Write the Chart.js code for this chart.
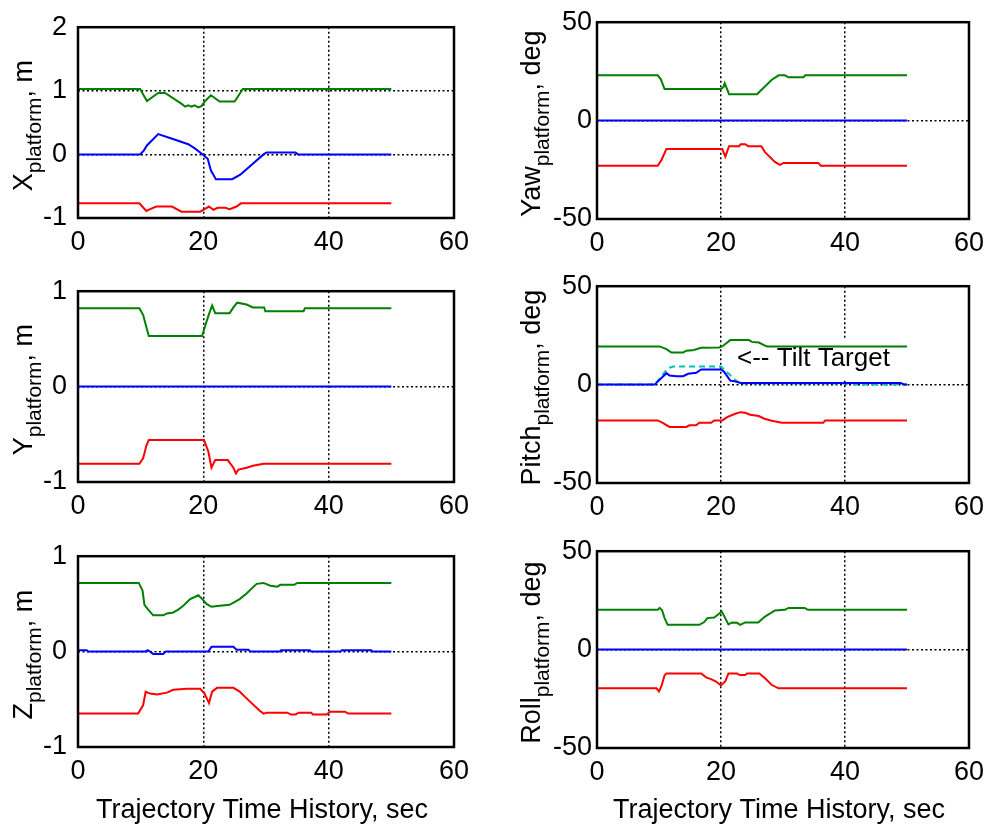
<!DOCTYPE html>
<html>
<head>
<meta charset="utf-8">
<script src="https://cdn.jsdelivr.net/npm/chart.js@4/dist/chart.umd.min.js"></script>
<style>
  body { margin: 0; background: #fff; }
  #wrap { position: relative; width: 992px; height: 829px; overflow: hidden; background: #fff; }
  #wrap canvas { position: absolute; }
</style>
</head>
<body>
<div id="wrap"></div>
<script>
// tick labels
const timeTicks = [0, 20, 40, 60];
const xPosTicks = [-1, 0, 1, 2];
const metreTicks = [-1, 0, 1];
const degTicks = [-50, 0, 50];

// X platform, m
const xGreenT = [0, 9.9, 11.0, 12.8, 13.9, 16.6, 17.1, 17.6, 18.1, 18.6, 19.2, 19.7, 20.3, 21.2, 22.6, 25.0, 26.3, 50];
const xGreenV = [1.03, 1.03, 0.84, 0.965, 0.965, 0.79, 0.75, 0.77, 0.75, 0.77, 0.74, 0.76, 0.84, 0.93, 0.83, 0.83, 1.03, 1.03];
const xBlueT = [0, 9.9, 10.5, 11.0, 12.8, 15.5, 17.6, 18.7, 19.9, 20.7, 21.2, 22.0, 24.6, 25.9, 29.6, 30.1, 34.7, 35.1, 50];
const xBlueV = [0, 0, 0.06, 0.14, 0.32, 0.23, 0.16, 0.09, 0, -0.07, -0.25, -0.39, -0.39, -0.32, 0, 0.03, 0.03, 0, 0];
const xRedT = [0, 9.8, 10.9, 11.5, 12.5, 15, 16.5, 19.5, 20.2, 20.9, 21.6, 22.3, 23.5, 24.2, 25.3, 26.0, 50];
const xRedV = [-0.77, -0.77, -0.89, -0.86, -0.82, -0.82, -0.90, -0.90, -0.86, -0.82, -0.87, -0.84, -0.84, -0.86, -0.82, -0.77, -0.77];

// Yaw platform, deg
const yawGreenT = [0, 9.8, 10.3, 10.9, 20.0, 20.4, 20.6, 21.3, 25.8, 28.2, 29.3, 30.3, 30.9, 33.3, 33.6, 50];
const yawGreenV = [23, 23, 21, 16, 16, 17, 19, 13.4, 13.4, 20.8, 23, 23, 22, 22, 23, 23];
const yawBlueT = [0, 50];
const yawBlueV = [0, 0];
const yawRedT = [0, 9.8, 10.4, 11.2, 20.2, 20.7, 21.3, 22.9, 23.2, 23.9, 24.4, 26.5, 27.1, 28.7, 29.5, 30.1, 35.7, 36.1, 50];
const yawRedV = [-23, -23, -20, -14.4, -14.4, -18.3, -13, -13, -12, -12, -13, -13, -16, -21, -22.5, -21.5, -21.5, -23, -23];

// Y platform, m
const yGreenT = [0, 9.8, 10.4, 11.0, 11.3, 19.8, 20.5, 20.9, 21.4, 21.9, 24.2, 24.8, 25.4, 26.9, 27.9, 29.7, 29.9, 36.0, 36.2, 50];
const yGreenV = [0.82, 0.82, 0.75, 0.6, 0.53, 0.53, 0.68, 0.76, 0.85, 0.77, 0.77, 0.83, 0.88, 0.86, 0.83, 0.83, 0.79, 0.79, 0.82, 0.82];
const yBlueT = [0, 50];
const yBlueV = [0, 0];
const yRedT = [0, 9.8, 10.4, 10.9, 11.3, 20.1, 20.8, 21.3, 21.9, 23.9, 24.8, 25.2, 25.6, 26.9, 27.9, 29.6, 50];
const yRedV = [-0.81, -0.81, -0.75, -0.62, -0.56, -0.56, -0.68, -0.85, -0.77, -0.77, -0.85, -0.91, -0.87, -0.85, -0.83, -0.81, -0.81];

// Pitch platform, deg
const pitchGreenT = [0, 10.1, 11.2, 12.0, 13.9, 14.4, 15.4, 16.0, 16.8, 19.7, 20.2, 20.7, 21.5, 24.5, 25.0, 26.1, 27.1, 27.5, 50];
const pitchGreenV = [19.4, 19.4, 18, 16.3, 16.3, 17.2, 17.4, 18, 18.7, 18.9, 19.4, 20.6, 22.6, 22.6, 21.7, 21.4, 19.8, 19.4, 19.4];
const pitchBlueT = [0, 9.3, 11.2, 11.7, 12.8, 13.9, 14.7, 16.0, 16.8, 20.0, 20.5, 21.5, 22.6, 23.1, 49.0, 49.6, 50];
const pitchBlueV = [0, 0, 5.8, 4.6, 4.3, 4.3, 5.5, 6, 7.7, 7.7, 6.5, 2, 1.5, 0.8, 0.8, 0, 0];
const tiltTargetT = [0, 9.3, 11.2, 11.7, 12.3, 20.0, 22.9, 41.3, 41.7, 50];
const tiltTargetV = [0, 0, 7.4, 8.6, 9.2, 9.2, 0.6, 0.6, 0, 0];
const pitchRedT = [0, 9.8, 10.6, 11.7, 14.4, 14.9, 16.0, 16.5, 18.4, 18.9, 20.2, 21.0, 22.3, 23.1, 23.9, 24.7, 26.1, 26.9, 28.0, 29.8, 36.5, 36.8, 50];
const pitchRedV = [-18.2, -18.2, -19.4, -21.5, -21.5, -20.7, -20.7, -19.4, -19.4, -18.2, -18.2, -16.5, -14.8, -14, -14.3, -15.3, -16, -17.2, -18.2, -19.4, -19.4, -18.2, -18.2];

// Z platform, m
const zGreenT = [0, 9.7, 10.3, 10.6, 11.2, 12.0, 13.6, 14.2, 15.2, 16.0, 16.8, 17.9, 19.2, 19.7, 20.5, 21.3, 22.6, 24.2, 25.8, 26.9, 28.5, 29.6, 30.7, 31.8, 32.3, 34.5, 35.0, 50];
const zGreenV = [0.72, 0.72, 0.64, 0.49, 0.44, 0.38, 0.38, 0.40, 0.41, 0.44, 0.48, 0.55, 0.59, 0.56, 0.50, 0.47, 0.48, 0.49, 0.55, 0.61, 0.71, 0.72, 0.69, 0.68, 0.70, 0.70, 0.72, 0.72];
const zBlueT = [0, 1.4, 1.6, 10.8, 11.1, 11.5, 12.0, 13.6, 14.0, 20.8, 21.3, 24.8, 25.3, 27.2, 27.5, 32.2, 32.4, 37.0, 37.2, 41.9, 42.1, 46.8, 47.0, 50];
const zBlueV = [0.015, 0.015, 0, 0, 0.015, 0, -0.025, -0.025, 0, 0, 0.05, 0.05, 0.02, 0.02, 0, 0, 0.015, 0.015, 0, 0, 0.015, 0.015, 0, 0];
const zRedT = [0, 9.6, 10.4, 10.8, 11.5, 12.6, 14.2, 15.2, 17.4, 19.5, 20.2, 20.9, 21.4, 22.2, 24.8, 25.8, 26.9, 29.0, 29.6, 30.1, 33.4, 34.0, 34.7, 35.2, 37.2, 37.5, 39.7, 40.2, 42.6, 43.1, 50];
const zRedV = [-0.65, -0.65, -0.56, -0.42, -0.44, -0.45, -0.43, -0.40, -0.39, -0.39, -0.44, -0.54, -0.42, -0.38, -0.38, -0.42, -0.49, -0.62, -0.65, -0.64, -0.64, -0.66, -0.66, -0.64, -0.64, -0.66, -0.66, -0.63, -0.63, -0.65, -0.65];

// Roll platform, deg
const rollGreenT = [0, 9.8, 10.1, 10.5, 10.9, 11.4, 16.5, 17.3, 17.8, 18.9, 19.7, 20.1, 20.6, 21.2, 21.8, 22.6, 23.1, 23.9, 26.0, 27.1, 28.7, 30.3, 30.9, 33.5, 34.0, 50];
const rollGreenV = [20.2, 20.2, 21.2, 20, 16, 12.6, 12.6, 14, 16, 16.3, 18.2, 19.4, 16.5, 12.8, 13.8, 13.6, 12.6, 13.8, 13.8, 16.8, 19.9, 20.2, 21.2, 21.2, 20.2, 20.2];
const rollBlueT = [0, 50];
const rollBlueV = [0, 0];
const rollRedT = [0, 9.6, 10.0, 10.4, 10.9, 11.2, 16.8, 17.6, 18.4, 19.2, 20.0, 20.7, 21.2, 22.6, 23.0, 23.9, 24.2, 26.2, 27.1, 28.2, 29.3, 50];
const rollRedV = [-19.7, -19.7, -21.2, -18.5, -13, -12.1, -12.1, -14.1, -15, -16.2, -18.2, -16, -12.1, -12.1, -12.9, -12.9, -12.1, -12.1, -14.6, -18, -19.7, -19.7];

const GREEN = '#008000', BLUE = '#0000ff', RED = '#ff0000', CYAN = '#00bfbf';
const FONT = '"Liberation Sans", Arial, Helvetica, sans-serif';
Chart.defaults.font.family = FONT;

// page layout of the six axes boxes
const cols = [
  { l: 78, r: 454, cx: 0, cw: 490, labelX: 32, yPad: 11 },
  { l: 597, r: 972, cx: 500, cw: 492, labelX: 540, yPad: 5 }
];
const rows = [
  [[20, 218], [21, 219]],
  [[284, 482], [285, 483]],
  [[549, 747], [550, 748]]
];

const panels = [
  { row: 0, col: 0, main: 'X', ticks: xPosTicks, rest: ', m',
    series: [[xGreenT, xGreenV, GREEN], [xBlueT, xBlueV, BLUE], [xRedT, xRedV, RED]] },
  { row: 0, col: 1, main: 'Yaw', ticks: degTicks, rest: ', deg',
    series: [[yawGreenT, yawGreenV, GREEN], [yawBlueT, yawBlueV, BLUE], [yawRedT, yawRedV, RED]] },
  { row: 1, col: 0, main: 'Y', ticks: metreTicks, rest: ', m',
    series: [[yGreenT, yGreenV, GREEN], [yBlueT, yBlueV, BLUE], [yRedT, yRedV, RED]] },
  { row: 1, col: 1, main: 'Pitch', ticks: degTicks, rest: ', deg', note: '<-- Tilt Target',
    series: [[pitchGreenT, pitchGreenV, GREEN], [pitchBlueT, pitchBlueV, BLUE], [tiltTargetT, tiltTargetV, CYAN, [6, 4]], [pitchRedT, pitchRedV, RED]] },
  { row: 2, col: 0, main: 'Z', ticks: metreTicks, rest: ', m', xTitle: true,
    series: [[zGreenT, zGreenV, GREEN], [zBlueT, zBlueV, BLUE], [zRedT, zRedV, RED]] },
  { row: 2, col: 1, main: 'Roll', ticks: degTicks, rest: ', deg', xTitle: true,
    series: [[rollGreenT, rollGreenV, GREEN], [rollBlueT, rollBlueV, BLUE], [rollRedT, rollRedV, RED]] }
];

// box, rotated y label with subscript, x title and the note
const panelDecor = {
  id: 'panelDecor',
  beforeDatasetsDraw(chart, args, o) {
    if (!o.note) return;
    const ctx = chart.ctx;
    ctx.save();
    ctx.fillStyle = '#fff';
    ctx.fillRect(733 - o.ox, 338 - o.oy, 164, 42);
    ctx.restore();
  },
  afterDatasetsDraw(chart, args, o) {
    const { ctx, chartArea: a } = chart;
    ctx.save();
    ctx.strokeStyle = '#000';
    ctx.lineWidth = 2.5;
    ctx.strokeRect(a.left, a.top, a.right - a.left, a.bottom - a.top);

    ctx.fillStyle = '#000';
    ctx.textAlign = 'left';
    ctx.textBaseline = 'alphabetic';
    if (o.note) {
      ctx.font = '26px ' + FONT;
      ctx.fillText(o.note, 737 - o.ox, 366 - o.oy);
    }

    // y label, rotated
    ctx.font = '27px ' + FONT;
    const w1 = ctx.measureText(o.main).width;
    const w3 = ctx.measureText(o.rest).width;
    ctx.font = '21px ' + FONT;
    const w2 = ctx.measureText('platform').width;
    ctx.translate(o.labelX - o.ox, (a.top + a.bottom) / 2 + 3);
    ctx.rotate(-Math.PI / 2);
    let x = -(w1 + w2 + w3) / 2;
    ctx.font = '27px ' + FONT;
    ctx.fillText(o.main, x, 0);
    x += w1;
    ctx.font = '21px ' + FONT;
    ctx.fillText('platform', x, 8.6);
    x += w2;
    ctx.font = '27px ' + FONT;
    ctx.fillText(o.rest, x, 0);
    ctx.setTransform(1, 0, 0, 1, 0, 0);

    if (o.xTitle) {
      ctx.font = '27px ' + FONT;
      ctx.textAlign = 'center';
      ctx.fillText('Trajectory Time History, sec', (a.left + a.right) / 2 - 4, 818 - o.oy);
    }
    ctx.restore();
  }
};

const wrap = document.getElementById('wrap');
panels.forEach(p => {
  const c = cols[p.col];
  const [top, bottom] = rows[p.row][p.col];
  const cy = top - 20;
  const ch = (p.row === 2 ? 829 : bottom + 44) - cy;
  const xH = cy + ch - bottom;
  const canvas = document.createElement('canvas');
  canvas.width = c.cw;
  canvas.height = ch;
  canvas.style.left = c.cx + 'px';
  canvas.style.top = cy + 'px';
  wrap.appendChild(canvas);

  const yMin = p.ticks[0], yMax = p.ticks[p.ticks.length - 1];
  new Chart(canvas, {
    type: 'line',
    data: {
      datasets: p.series.map(([T, V, color, dash]) => ({
        data: T.map((t, i) => ({ x: t, y: V[i] })),
        borderColor: color,
        borderWidth: 2,
        borderDash: dash || [],
        pointRadius: 0,
        tension: 0,
        fill: false
      }))
    },
    options: {
      responsive: false,
      animation: false,
      devicePixelRatio: 1,
      layout: { padding: { top: 20, right: c.cw + c.cx - c.r, left: 0, bottom: 0 } },
      plugins: {
        legend: { display: false },
        tooltip: { enabled: false },
        panelDecor: { main: p.main, rest: p.rest, note: p.note, xTitle: p.xTitle,
          labelX: c.labelX, ox: c.cx, oy: cy }
      },
      scales: {
        x: {
          type: 'linear', min: timeTicks[0], max: timeTicks[timeTicks.length - 1],
          afterBuildTicks: s => { s.ticks = timeTicks.map(v => ({ value: v })); },
          afterFit: s => { s.height = xH; },
          grid: { color: '#000', lineWidth: 1.5, drawTicks: false },
          border: { display: false, dash: [2, 2.5] },
          ticks: { color: '#000', font: { size: 27 }, padding: 8, maxRotation: 0, autoSkip: false }
        },
        y: {
          type: 'linear', min: yMin, max: yMax,
          afterBuildTicks: s => { s.ticks = p.ticks.map(v => ({ value: v })); },
          afterFit: s => { s.width = c.l - c.cx; },
          grid: { color: '#000', lineWidth: 1.5, drawTicks: false },
          border: { display: false, dash: [2, 2.5] },
          ticks: { color: '#000', font: { size: 27 }, padding: c.yPad, autoSkip: false }
        }
      }
    },
    plugins: [panelDecor]
  });
});
</script>
</body>
</html>
